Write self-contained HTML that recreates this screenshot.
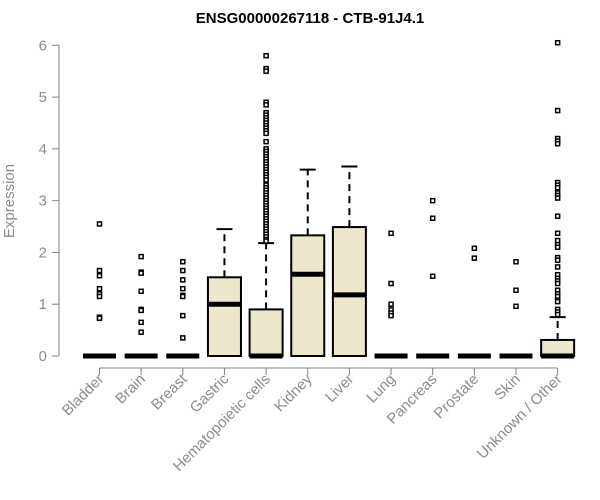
<!DOCTYPE html>
<html><head><meta charset="utf-8"><style>
body{margin:0;background:#fff}
svg{display:block;font-family:"Liberation Sans",Arial,sans-serif}
</style></head><body>
<svg id="chart" width="600" height="500">
<text x="310" y="23" text-anchor="middle" font-weight="bold" font-size="15">ENSG00000267118 - CTB-91J4.1</text>
<text transform="translate(14,201) rotate(-90)" text-anchor="middle" font-size="15" fill="#8c8c8c">Expression</text>
<g id="axes"></g><g id="marks"></g>
</svg>
<script>
const categories=["Bladder","Brain","Breast","Gastric","Hematopoietic cells","Kidney","Liver","Lung","Pancreas","Prostate","Skin","Unknown / Other"];
const q1=[0,0,0,0,0,0,0,0,0,0,0,0];
const medians=[0,0,0,1.0,0,1.58,1.18,0,0,0,0,0];
const q3=[0,0,0,1.52,0.9,2.33,2.49,0,0,0,0,0.31];
const lowerWhisker=[0,0,0,0,0,0,0,0,0,0,0,0];
const upperWhisker=[0,0,0,2.45,2.18,3.6,3.66,0,0,0,0,0.75];
const outliers=[
[2.55,1.65,1.55,1.3,1.2,1.15,0.75,0.73],
[1.92,1.62,1.6,1.25,0.9,0.88,0.65,0.46],
[1.82,1.65,1.47,1.3,1.17,1.15,0.78,0.35],
[],
[5.8,5.55,5.5,4.9,4.85,4.7,4.65,4.6,4.55,4.5,4.45,4.4,4.35,4.3,4.14,4.0,3.95,3.9,3.85,3.8,3.75,3.7,3.65,3.6,3.55,3.5,3.45,3.4,3.3,3.25,3.2,3.15,3.1,3.05,3.0,2.95,2.9,2.85,2.8,2.75,2.7,2.65,2.6,2.55,2.5,2.45,2.4,2.35,2.3,2.25,2.22],
[],[],
[2.37,1.4,1.0,0.89,0.83,0.78],
[3.0,2.66,1.54],
[2.08,1.89],
[1.82,1.27,0.96],
[6.05,4.74,4.2,4.15,4.1,3.35,3.3,3.25,3.15,3.1,3.05,2.7,2.37,2.23,2.15,2.1,1.9,1.85,1.72,1.57,1.5,1.45,1.4,1.27,1.2,1.15,1.08,1.05,0.9,0.85,0.8]
];
const yTicks=[0,1,2,3,4,5,6];
const NS="http://www.w3.org/2000/svg";
const y=v=>356-v*51.78;
const x=i=>99.5+i*41.65;
const hw=16.5;
const axes=document.getElementById('axes'),marks=document.getElementById('marks');
function mk(tag,attrs,parent){const e=document.createElementNS(NS,tag);for(const k in attrs)e.setAttribute(k,attrs[k]);parent.appendChild(e);return e;}
let e=mk('line',{x1:59,x2:59,y1:y(0),y2:y(6),stroke:'#808080'},axes);


yTicks.forEach(t=>{
 let l=mk('line',{x1:52,x2:59,y1:y(t),y2:y(t),stroke:'#808080'},axes);
 
 
 let tx=mk('text',{x:47,y:y(t)+5,'text-anchor':'end','font-size':15,fill:'#8c8c8c'},axes);
 tx.textContent=t;
 
 
});
e=mk('line',{x1:x(0),x2:x(11),y1:368,y2:368,stroke:'#808080'},axes);


categories.forEach((c,i)=>{
 let l=mk('line',{x1:x(i),x2:x(i),y1:368,y2:375,stroke:'#808080'},axes);
 
 
 let tx=mk('text',{transform:`translate(${x(i)+5},${380}) rotate(-45)`,'text-anchor':'end','font-size':15,fill:'#8c8c8c'},axes);
 tx.textContent=c;
 
 
 const g=mk('g',{},marks);
 
 
 const cx=x(i);
 if(upperWhisker[i]>q3[i]){
  mk('line',{x1:cx,x2:cx,y1:y(q3[i]),y2:y(upperWhisker[i]),stroke:'#000','stroke-width':2,'stroke-dasharray':'7,5'},g);
  mk('line',{x1:cx-8,x2:cx+8,y1:y(upperWhisker[i]),y2:y(upperWhisker[i]),stroke:'#000','stroke-width':2},g);
 }
 if(q3[i]>q1[i]) mk('rect',{x:cx-hw,y:y(q3[i]),width:2*hw,height:y(q1[i])-y(q3[i]),fill:'#ede7cc',stroke:'#000','stroke-width':2},g);
 mk('line',{x1:cx-hw,x2:cx+hw,y1:y(medians[i]),y2:y(medians[i]),stroke:'#000','stroke-width':5},g);
 outliers[i].forEach(v=>{
  let p=mk('rect',{x:cx-2,y:y(v)-2,width:4,height:4,fill:'#fff',stroke:'#000','stroke-width':1.5},g);
  
  
 });
});
</script>
</body></html>
